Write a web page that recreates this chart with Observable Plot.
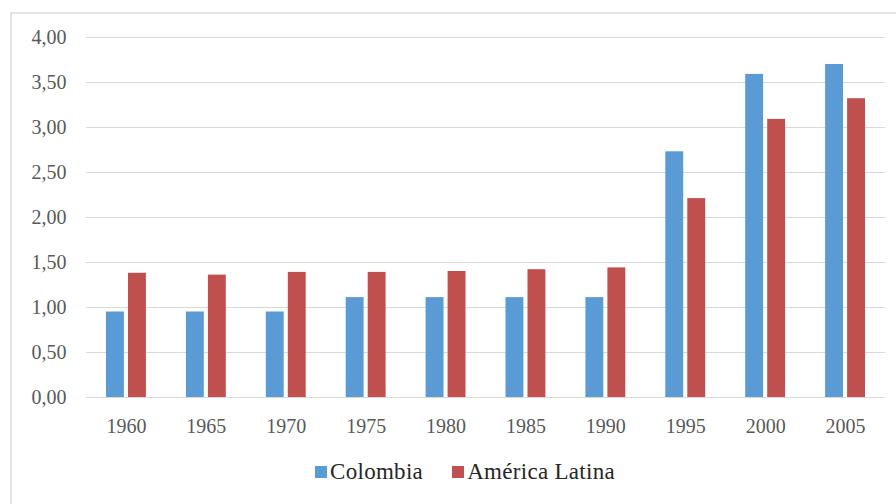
<!DOCTYPE html>
<html>
<head>
<meta charset="utf-8">
<script src="https://cdn.jsdelivr.net/npm/d3@7"></script>
<script src="https://cdn.jsdelivr.net/npm/@observablehq/plot@0.6"></script>
<style>
  html, body { margin: 0; padding: 0; background: #fff; overflow: hidden; width: 896px; height: 504px; }
  #frame { position: absolute; left: 10px; top: 12px; width: 900px; height: 500px; border: 2px solid #e3e3e3; box-sizing: border-box; }
  #chart { position: absolute; left: 0; top: 0; }
  #legend { position: absolute; left: 315px; top: 459px; font-family: 'Liberation Serif'; font-size: 23px; color: #262626; display: flex; align-items: center; white-space: nowrap; }
  .sw { display: inline-block; width: 12px; height: 12px; margin-right: 3px; }
  .item { display: flex; align-items: center; margin-right: 29px; font-family: 'Liberation Serif'; letter-spacing: 0.3px; }
</style>
</head>
<body>
<div id="frame"></div>
<div id="chart"></div>
<div id="legend"></div>
<script>
const years = ["1960", "1965", "1970", "1975", "1980", "1985", "1990", "1995", "2000", "2005"];
const colombia = [0.95, 0.95, 0.95, 1.11, 1.11, 1.11, 1.11, 2.73, 3.59, 3.70];
const americaLatina = [1.38, 1.36, 1.39, 1.39, 1.40, 1.42, 1.44, 2.21, 3.09, 3.32];
const seriesNames = ["Colombia", "América Latina"];
const seriesColors = ["#5B9BD5", "#C0504D"];
const yTicks = [0, 0.5, 1, 1.5, 2, 2.5, 3, 3.5, 4];

const rowsCol = years.map((y, i) => ({year: y, value: colombia[i], series: seriesNames[0]}));
const rowsLat = years.map((y, i) => ({year: y, value: americaLatina[i], series: seriesNames[1]}));

const fmt = d => d3.format(".2f")(d).replace(".", ",");

const chart = Plot.plot({
  width: 896,
  height: 445,
  marginLeft: 86,
  marginRight: 11,
  marginTop: 37,
  marginBottom: 48,
  style: {fontFamily: "Liberation Serif", fontSize: "20px", color: "#595959", background: "transparent"},
  x: {domain: years, padding: 0, round: false, axis: null, label: null},
  y: {domain: [0, 4], axis: null, label: null},
  color: {domain: seriesNames, range: seriesColors},
  marks: [
    Plot.ruleY(yTicks, {stroke: "#d9d9d9", strokeWidth: 1.2}),
    Plot.barY(rowsCol, {x: "year", y: "value", fill: "series", insetLeft: 20, insetRight: 42}),
    Plot.barY(rowsLat, {x: "year", y: "value", fill: "series", insetLeft: 42, insetRight: 20}),
    Plot.axisY({ticks: yTicks, tickSize: 0, tickPadding: 20, tickFormat: fmt, fill: "#595959", fontSize: 20, fontFamily: "Liberation Serif", label: null}),
    Plot.axisX({tickSize: 0, tickPadding: 21, fill: "#595959", fontSize: 20, fontFamily: "Liberation Serif", label: null})
  ]
});
document.getElementById("chart").appendChild(chart);

const legend = document.getElementById("legend");
seriesNames.forEach((name, i) => {
  const item = document.createElement("span");
  item.className = "item";
  const sw = document.createElement("span");
  sw.className = "sw";
  sw.style.background = seriesColors[i];
  item.appendChild(sw);
  item.appendChild(document.createTextNode(name));
  legend.appendChild(item);
});
</script>
</body>
</html>
